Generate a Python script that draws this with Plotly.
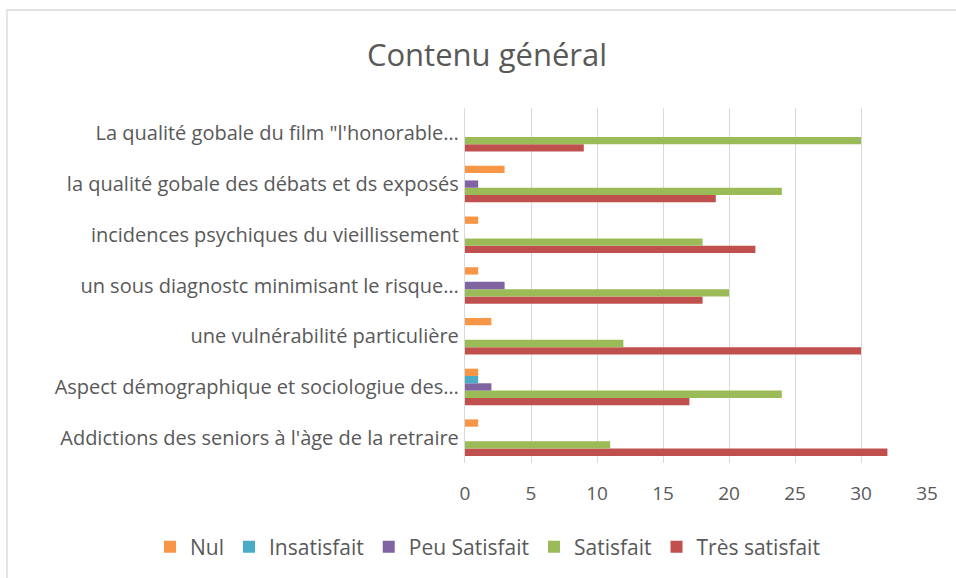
import plotly.graph_objects as go

# Categories, bottom to top as drawn on the axis
CATEGORIES = [
    "Addictions des seniors à l'àge de la retraire",
    "Aspect démographique et sociologiue des…",
    "une vulnérabilité particulière",
    "un sous diagnostc minimisant le risque…",
    "incidences psychiques du vieillissement",
    "la qualité gobale des débats et ds exposés",
    "La qualité gobale du film \"l'honorable…",
]

NUL = [1, 1, 2, 1, 1, 3, 0]
INSATISFAIT = [0, 1, 0, 0, 0, 0, 0]
PEU_SATISFAIT = [0, 2, 0, 3, 0, 1, 0]
SATISFAIT = [11, 24, 12, 20, 18, 24, 30]
TRES_SATISFAIT = [32, 17, 30, 18, 22, 19, 9]

X_TICKS = [0, 5, 10, 15, 20, 25, 30, 35]

TEXT = "#595959"
FONT = "Open Sans"

W, H = 956, 578
L, R, T, B = 465, 29, 108, 115
PW, PH = W - L - R, H - T - B

# added bottom-to-top so that Nul sits on top of each group
series = [
    ("Très satisfait", TRES_SATISFAIT, "#C0504D"),
    ("Satisfait", SATISFAIT, "#9BBB59"),
    ("Peu Satisfait", PEU_SATISFAIT, "#8064A2"),
    ("Insatisfait", INSATISFAIT, "#4BACC6"),
    ("Nul", NUL, "#F79646"),
]

fig = go.Figure()
for name, vals, col in series:
    fig.add_trace(go.Bar(
        y=CATEGORIES, x=vals, name=name, orientation="h",
        marker=dict(color=col, line=dict(width=0)),
    ))

fig.update_layout(
    width=W, height=H,
    margin=dict(l=L, r=R, t=T, b=B, autoexpand=False),
    paper_bgcolor="white", plot_bgcolor="white",
    barmode="group", bargap=0.28, bargroupgap=0,
    font=dict(family=FONT, color=TEXT, size=19),
    title=dict(text="Contenu général", x=487 / W, xref="container",
               xanchor="center", y=1 - 55 / H, yanchor="middle",
               font=dict(size=31, color=TEXT, family=FONT)),
    legend=dict(orientation="h", traceorder="reversed",
                x=(150 - L) / PW, xanchor="left",
                y=-(547 - (H - B)) / PH, yanchor="middle",
                font=dict(size=21, color=TEXT),
                bgcolor="rgba(0,0,0,0)"),
    xaxis=dict(range=[0, 35], tickvals=X_TICKS, showgrid=True,
               gridcolor="#D9D9D9", gridwidth=1.3, zeroline=False,
               showline=False, ticks="outside", ticklen=13,
               tickcolor="rgba(0,0,0,0)",
               tickfont=dict(size=19, color=TEXT)),
    yaxis=dict(showgrid=False, zeroline=False, showline=True,
               linecolor="#D9D9D9", linewidth=1.3, ticks="outside",
               ticklen=1, tickcolor="rgba(0,0,0,0)",
               tickfont=dict(size=20, color=TEXT)),
    shapes=[dict(type="rect", xref="paper", yref="paper",
                 x0=(7 - L) / PW, x1=(W + 10 - L) / PW,
                 y0=-(H + 10 - (H - B)) / PH, y1=1 + (T - 10) / PH,
                 line=dict(color="#D9D9D9", width=1.3),
                 fillcolor="rgba(0,0,0,0)", layer="below")],
)

# drop the browser's default 8px body margin so the figure sits at 0,0
fig.write_html("out.html", config={"displayModeBar": False},
               post_script="document.body.style.margin='0';"
                           "document.body.style.overflow='hidden';")
